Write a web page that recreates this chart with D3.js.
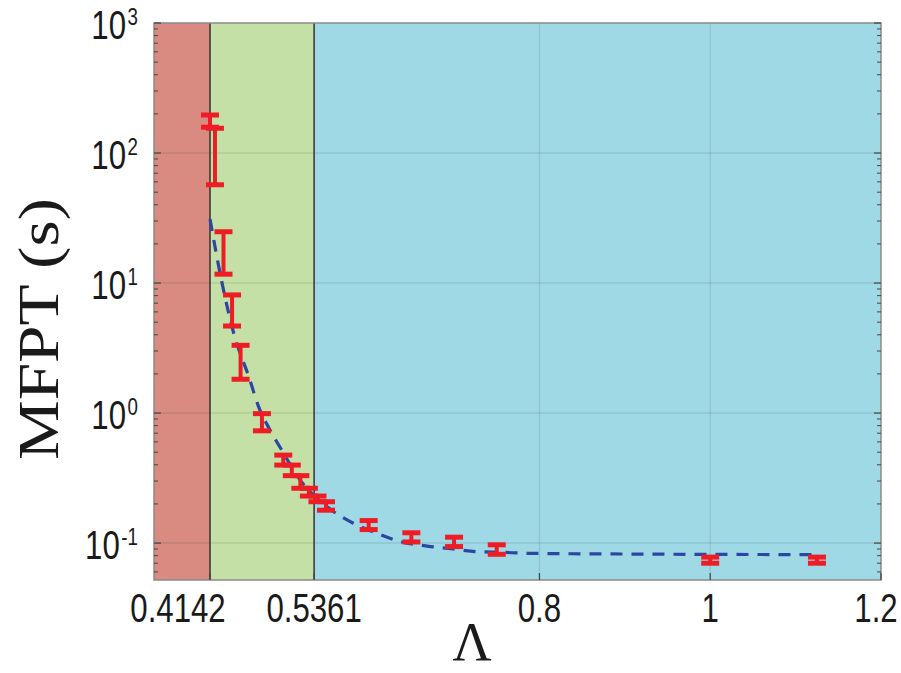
<!DOCTYPE html>
<html>
<head>
<meta charset="utf-8">
<script src="https://cdn.jsdelivr.net/npm/d3@7"></script>
<style>
  body { margin: 0; background: #fff; }
  svg { display: block; }
</style>
</head>
<body>
<div id="chart"></div>
<script>
// measured error bars: Lambda, lower and upper MFPT (s)
const barLambda = [0.4142, 0.42, 0.43, 0.44, 0.45, 0.475, 0.5, 0.51, 0.52, 0.53, 0.54, 0.55, 0.6, 0.65, 0.7, 0.75, 1.0, 1.125];
const barLow    = [158, 57, 11.7, 4.67, 1.82, 0.73, 0.398, 0.33, 0.264, 0.23, 0.208, 0.179, 0.127, 0.102, 0.094, 0.082, 0.070, 0.070];
const barHigh   = [196, 155, 24.8, 8.1, 3.32, 0.99, 0.475, 0.398, 0.33, 0.264, 0.23, 0.208, 0.149, 0.12, 0.111, 0.097, 0.078, 0.078];

// theory curve (dashed)
const curveLambda = [0.4142, 0.428, 0.4415, 0.461, 0.4704, 0.4845, 0.4982, 0.5157, 0.5567, 0.582, 0.6094, 0.6387, 0.6686, 0.6991, 0.7284, 0.7596, 0.7909, 0.93, 1.126];
const curveMfpt   = [31, 10.2, 4.22, 1.79, 1.15, 0.74, 0.519, 0.333, 0.179, 0.142, 0.119, 0.102, 0.0948, 0.09, 0.0858, 0.0848, 0.0833, 0.0822, 0.0815];

// regions and ticks
const regionEdges  = [0.3486, 0.4142, 0.5361, 1.2];
const regionColors = ['#d98b81', '#c5e0a6', '#a0d9e6'];
const xTicks = [0.4142, 0.5361, 0.8, 1, 1.2];
const xTickLabels = ['0.4142', '0.5361', '0.8', '1', '1.2'];
const xGrid = [0.8, 1];
const yTicks = [0.1, 1, 10, 100, 1000];
const yTickExp = ['-1', '0', '1', '2', '3'];

const W = 901, H = 673;
const plot = {left: 154, right: 881, top: 23, bottom: 580};
const narrow = 0.78;   // tick font is a condensed face
const tickFont = '"Liberation Sans", Arial, sans-serif';

const x = d3.scaleLinear().domain([regionEdges[0], regionEdges[3]]).range([plot.left, plot.right]);
const y = d3.scaleLog().domain([0.052, 1000]).range([plot.bottom, plot.top]);

const svg = d3.select('#chart').append('svg')
    .attr('width', W)
    .attr('height', H);

// coloured regions
svg.selectAll('.region').data(regionColors).enter()
    .append('rect')
    .attr('class', 'region')
    .attr('x', (d, i) => x(regionEdges[i]))
    .attr('y', plot.top)
    .attr('width', (d, i) => x(regionEdges[i + 1]) - x(regionEdges[i]))
    .attr('height', plot.bottom - plot.top)
    .attr('fill', d => d);

// grid
svg.selectAll('.hgrid').data(yTicks.slice(0, -1)).enter()
    .append('line')
    .attr('class', 'hgrid')
    .attr('x1', plot.left).attr('x2', plot.right)
    .attr('y1', y).attr('y2', y)
    .attr('stroke', 'rgba(40,60,60,0.13)')
    .attr('stroke-width', 1.5);
svg.selectAll('.vgrid').data(xGrid).enter()
    .append('line')
    .attr('class', 'vgrid')
    .attr('x1', x).attr('x2', x)
    .attr('y1', plot.top).attr('y2', plot.bottom)
    .attr('stroke', 'rgba(40,60,60,0.13)')
    .attr('stroke-width', 1.5);

// region boundaries
svg.selectAll('.edge').data(regionEdges.slice(1, 3)).enter()
    .append('line')
    .attr('class', 'edge')
    .attr('x1', x).attr('x2', x)
    .attr('y1', plot.top).attr('y2', plot.bottom)
    .attr('stroke', '#333')
    .attr('stroke-width', 1.5);

// frame
svg.append('rect')
    .attr('x', plot.left).attr('y', plot.top)
    .attr('width', plot.right - plot.left)
    .attr('height', plot.bottom - plot.top)
    .attr('fill', 'none')
    .attr('stroke', '#8a8a8a')
    .attr('stroke-width', 1.5);

// log ticks, left and right, inside
const minor = [];
for (let e = -2; e < 3; e++) for (let m = 2; m < 10; m++) {
    const v = m * Math.pow(10, e);
    if (v > 0.052 && v < 1000) minor.push(v);
}
[[plot.left, 1], [plot.right, -1]].forEach(([x0, dir]) => {
    svg.selectAll(null).data(minor).enter()
        .append('line')
        .attr('x1', x0).attr('x2', x0 + dir * 4)
        .attr('y1', y).attr('y2', y)
        .attr('stroke', '#444').attr('stroke-width', 1);
    svg.selectAll(null).data(yTicks).enter()
        .append('line')
        .attr('x1', x0).attr('x2', x0 + dir * 7)
        .attr('y1', y).attr('y2', y)
        .attr('stroke', '#444').attr('stroke-width', 1.2);
});
svg.selectAll('.xtick').data(xTicks).enter()
    .append('line')
    .attr('class', 'xtick')
    .attr('x1', x).attr('x2', x)
    .attr('y1', plot.bottom).attr('y2', plot.bottom - 7)
    .attr('stroke', '#444').attr('stroke-width', 1.2);

// dashed curve
const line = d3.line()
    .x(d => x(d[0]))
    .y(d => y(d[1]))
    .curve(d3.curveMonotoneX);
svg.append('path')
    .datum(curveLambda.map((l, i) => [l, curveMfpt[i]]))
    .attr('d', line)
    .attr('fill', 'none')
    .attr('stroke', '#2a47a3')
    .attr('stroke-width', 3.2)
    .attr('stroke-dasharray', '12,9');

// error bars
const bars = svg.selectAll('.bar').data(barLambda.map((l, i) => ({l, lo: barLow[i], hi: barHigh[i]})))
    .enter().append('g')
    .attr('class', 'bar')
    .attr('stroke', '#ee1c24');
bars.append('line')
    .attr('stroke-width', 4)
    .attr('x1', d => x(d.l)).attr('x2', d => x(d.l))
    .attr('y1', d => y(d.lo)).attr('y2', d => y(d.hi));
bars.append('line')
    .attr('stroke-width', 5)
    .attr('x1', d => x(d.l) - 9).attr('x2', d => x(d.l) + 9)
    .attr('y1', d => y(d.lo)).attr('y2', d => y(d.lo));
bars.append('line')
    .attr('stroke-width', 5)
    .attr('x1', d => x(d.l) - 9).attr('x2', d => x(d.l) + 9)
    .attr('y1', d => y(d.hi)).attr('y2', d => y(d.hi));

// tick labels
const xShift = [-32, 0, 0, 0, -5];
svg.selectAll('.xlabel').data(xTicks).enter()
    .append('g')
    .attr('class', 'xlabel')
    .attr('transform', (d, i) => `translate(${x(d) + xShift[i]},622) scale(${narrow},1)`)
    .append('text')
    .attr('text-anchor', 'middle')
    .attr('font-family', tickFont)
    .attr('font-size', 40)
    .attr('fill', '#1a1a1a')
    .text((d, i) => xTickLabels[i]);

const ylab = svg.selectAll('.ylabel').data(yTicks).enter()
    .append('g')
    .attr('class', 'ylabel')
    .attr('transform', d => `translate(138,${y(d) + 16}) scale(${narrow},1)`)
    .append('text')
    .attr('text-anchor', 'end')
    .attr('font-family', tickFont)
    .attr('font-size', 40)
    .attr('fill', '#1a1a1a');
ylab.append('tspan').text('10');
ylab.append('tspan')
    .attr('dx', 2)
    .attr('dy', -14)
    .attr('font-size', 24)
    .text((d, i) => yTickExp[i]);

// axis titles
svg.append('text')
    .attr('x', 472)
    .attr('y', 660)
    .attr('text-anchor', 'middle')
    .attr('font-family', '"Liberation Serif", "Times New Roman", serif')
    .attr('font-size', 54)
    .attr('fill', '#1a1a1a')
    .text('Λ');
svg.append('text')
    .attr('transform', 'translate(58,329) rotate(-90)')
    .attr('text-anchor', 'middle')
    .attr('font-family', '"Liberation Serif", "Times New Roman", serif')
    .attr('font-size', 58)
    .attr('textLength', 262)
    .attr('lengthAdjust', 'spacingAndGlyphs')
    .attr('fill', '#1a1a1a')
    .text('MFPT (s)');
</script>
</body>
</html>
